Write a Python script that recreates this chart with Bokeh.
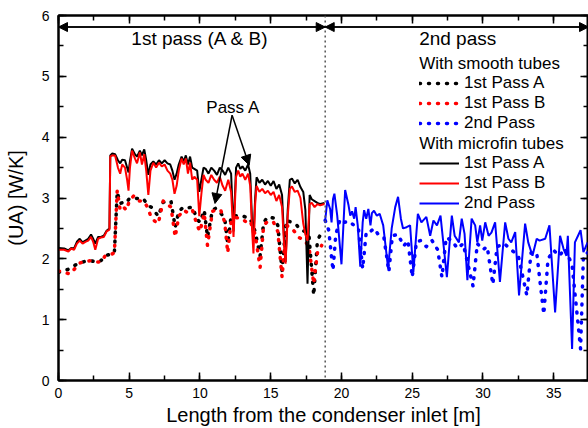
from bokeh.plotting import figure
from bokeh.models import (Range1d, LinearAxis, SingleIntervalTicker, Legend, LegendItem,
                          Label, Arrow, NormalHead, Span, CustomJSTickFormatter)
from bokeh.embed import file_html
from bokeh.resources import INLINE

FONT = "Liberation Sans"

# ---- data ----
# Smooth tubes, 1st pass A (black dotted)
sA_x = [0, 0.4, 0.8, 1.2, 1.5, 1.9, 2.3, 2.6, 3.0, 3.3, 3.7, 3.95, 4.15, 4.36, 4.6, 4.8, 5.0, 5.3, 5.6, 6.0,
        6.3, 6.55, 6.8, 7.05, 7.4, 7.95, 8.25, 8.5, 8.83, 9.2, 9.47, 9.8, 10.0, 10.3, 10.53, 10.88, 11.1,
        11.47, 11.75, 11.96, 12.2, 12.5, 12.96, 13.3, 13.55, 13.9, 14.25, 14.5, 14.8, 15.2, 15.5, 15.8,
        16.1, 16.5, 16.85, 17.0, 17.4, 17.7, 18.04, 18.3, 18.6]
sA_y = [1.78, 1.80, 1.84, 1.90, 1.93, 1.96, 1.97, 1.95, 1.97, 2.05, 2.08, 2.10, 3.10, 2.91, 2.93, 2.92, 2.99,
        3.00, 2.99, 2.99, 2.88, 2.85, 2.78, 2.70, 2.93, 2.95, 2.52, 2.78, 2.85, 2.84, 2.85, 2.65, 2.60, 2.80,
        2.36, 2.80, 2.83, 2.75, 2.66, 2.25, 2.70, 2.71, 2.71, 2.68, 2.66, 2.45, 2.05, 2.60, 2.69, 2.67, 2.55,
        1.81, 2.63, 2.60, 2.55, 2.50, 2.45, 2.40, 1.40, 2.30, 2.44]
# Smooth tubes, 1st pass B (red dotted)
sB_x = sA_x
sB_y = [1.80, 1.78, 1.75, 1.85, 1.93, 1.96, 1.97, 1.95, 1.95, 2.05, 2.07, 2.10, 3.12, 2.80, 2.85, 2.80, 2.95,
        3.03, 2.95, 2.95, 2.85, 2.68, 2.62, 2.58, 2.95, 2.85, 2.36, 2.70, 2.80, 2.75, 2.80, 2.55, 2.45, 2.75,
        2.22, 2.78, 2.80, 2.80, 2.60, 2.10, 2.62, 2.68, 2.66, 2.60, 2.62, 2.40, 1.86, 2.55, 2.62, 2.60, 2.45,
        1.70, 2.55, 2.50, 2.40, 2.35, 2.30, 2.20, 1.59, 2.10, 2.22]
# Smooth tubes, 2nd pass (blue dotted)
s2_x = [18.85, 19.1, 19.4, 19.6, 19.9, 20.2, 20.5, 20.9, 21.2, 21.5, 21.75, 22.0, 22.3, 22.6, 23.0, 23.35,
        23.6, 24.0, 24.4, 24.7, 25.0, 25.3, 25.6, 26.0, 26.4, 26.8, 27.1, 27.4, 27.8, 28.2, 28.6, 29.3, 29.6,
        30.0, 30.3, 30.7, 31.0, 31.5, 32.0, 32.5, 33.1, 33.4, 33.8, 34.3, 34.6, 35.0, 35.4, 35.8, 36.3, 36.9,
        37.1, 37.4]
s2_y = [2.63, 2.47, 1.81, 2.40, 2.65, 2.60, 2.62, 2.55, 2.50, 1.84, 2.44, 2.44, 2.50, 2.40, 2.35, 1.79,
        2.38, 2.40, 2.21, 2.30, 1.70, 2.28, 2.30, 2.20, 2.30, 2.15, 1.70, 2.35, 2.30, 2.17, 2.25, 1.55, 2.25,
        2.15, 2.20, 1.58, 2.20, 2.25, 2.15, 2.05, 1.40, 2.10, 2.10, 1.09, 2.00, 2.14, 2.05, 2.17, 1.90, 0.52,
        2.05, 2.10]
# Microfin tubes, 1st pass A (black solid) and B (red solid)
m1_x = [0, 0.4, 0.7, 0.9, 1.1, 1.3, 1.5, 1.7, 1.9, 2.1, 2.3, 2.45, 2.6, 2.8, 3.0, 3.2, 3.4, 3.6, 3.66, 3.8,
        4.0, 4.2, 4.36, 4.5, 4.7, 4.85, 4.95, 5.05, 5.2, 5.4, 5.55, 5.75, 5.9, 6.06, 6.2, 6.35, 6.5, 6.7, 6.9,
        7.1, 7.3, 7.5, 7.7, 7.9, 8.05, 8.2, 8.35, 8.5, 8.7, 8.85, 9.0, 9.15, 9.3, 9.45, 9.6, 9.8, 9.95, 10.1,
        10.25, 10.4, 10.6, 10.8, 11.0, 11.2, 11.4, 11.6, 11.78, 12.0, 12.2, 12.37, 12.55, 12.7, 12.85, 13.0,
        13.2, 13.4, 13.55, 13.7, 13.78, 13.9, 14.0, 14.2, 14.4, 14.6, 14.8, 15.0, 15.2, 15.4, 15.6, 15.8,
        15.95, 16.05, 16.2, 16.35, 16.5, 16.7, 16.9, 17.1, 17.3, 17.45, 17.6, 17.75, 17.9, 18.1, 18.3, 18.5,
        18.8]
mA_y = [2.18, 2.17, 2.14, 2.18, 2.17, 2.28, 2.33, 2.27, 2.30, 2.33, 2.40, 2.33, 2.25, 2.36, 2.36, 2.38, 2.46,
        2.50, 3.70, 3.73, 3.72, 3.62, 3.57, 3.63, 3.62, 3.50, 3.42, 3.60, 3.81, 3.72, 3.68, 3.78, 3.70, 3.80,
        3.62, 3.38, 3.55, 3.60, 3.55, 3.62, 3.57, 3.62, 3.57, 3.55, 3.45, 3.30, 3.40, 3.55, 3.68, 3.60, 3.70,
        3.55, 3.68, 3.50, 3.48, 3.45, 3.10, 3.30, 3.50, 3.48, 3.40, 3.50, 3.45, 3.38, 3.50, 3.45, 3.38, 3.50,
        3.40, 2.45, 3.50, 3.57, 3.48, 3.52, 3.45, 3.55, 3.40, 2.50, 2.35, 3.00, 3.34, 3.25, 3.30, 3.22, 3.28,
        3.20, 3.28, 3.15, 3.22, 3.05, 2.30, 1.95, 2.80, 3.30, 3.32, 3.24, 3.30, 3.18, 3.10, 2.80, 1.59, 3.05,
        2.98, 2.95, 2.92, 2.90, 2.92]
mB_y = [2.15, 2.15, 2.12, 2.17, 2.15, 2.25, 2.30, 2.25, 2.28, 2.30, 2.36, 2.28, 2.15, 2.33, 2.35, 2.36, 2.45,
        2.48, 3.68, 3.70, 3.70, 3.50, 3.40, 3.55, 3.50, 3.30, 3.12, 3.50, 3.78, 3.65, 3.57, 3.75, 3.55, 3.72,
        3.45, 3.05, 3.45, 3.58, 3.50, 3.58, 3.52, 3.55, 3.45, 3.40, 3.30, 3.07, 3.20, 3.45, 3.65, 3.55, 3.65,
        3.40, 3.58, 3.30, 3.35, 3.30, 2.70, 3.07, 3.38, 3.30, 3.25, 3.38, 3.30, 3.25, 3.35, 3.20, 3.12, 3.30,
        3.10, 2.36, 3.35, 3.45, 3.35, 3.40, 3.30, 3.40, 3.20, 2.40, 2.09, 2.90, 3.20, 3.10, 3.15, 3.08, 3.12,
        3.05, 3.10, 2.95, 3.05, 2.85, 2.20, 1.92, 2.70, 3.15, 3.19, 3.10, 3.12, 3.00, 2.58, 2.40, 2.30, 2.90,
        2.92, 2.85, 2.90, 2.88, 2.90]
# Microfin tubes, 2nd pass (blue solid)
m2_x = [18.85, 19.0, 19.2, 19.3, 19.4, 19.5, 19.7, 20.0, 20.26, 20.5, 20.62, 20.75, 20.9, 21.0, 21.15, 21.33,
        21.5, 21.6, 21.75, 21.9, 22.05, 22.15, 22.3, 22.5, 22.7, 22.95, 23.3, 23.55, 23.8, 24.0, 24.2, 24.35,
        24.6, 24.85, 25.08, 25.4, 25.65, 26.0, 26.27, 26.5, 26.75, 27.0, 27.45, 27.8, 28.0, 28.3, 28.5, 28.7,
        28.9, 29.2, 29.45, 29.6, 29.8, 29.95, 30.16, 30.4, 30.6, 30.86, 31.2, 31.57, 31.8, 32.0, 32.28, 32.55,
        32.98, 33.2, 33.5, 33.8, 34.0, 34.4, 34.7, 35.1, 35.45, 35.7, 35.9, 36.0, 36.3, 36.5, 36.9, 37.1, 37.4]
m2_y = [2.63, 2.96, 2.82, 2.60, 2.98, 3.07, 2.71, 1.91, 3.13, 2.88, 2.71, 2.78, 2.66, 2.85, 2.55, 1.87,
        2.60, 2.80, 2.66, 2.82, 2.55, 2.75, 2.79, 2.71, 2.74, 2.55, 1.84, 2.50, 2.85, 3.02, 2.66, 2.50,
        2.52, 2.55, 1.78, 2.74, 2.60, 2.69, 2.38, 2.63, 2.55, 2.71, 1.70, 2.71, 2.38, 2.27, 2.66, 2.41,
        1.65, 2.66, 2.55, 2.27, 2.55, 2.30, 2.60, 2.38, 2.43, 2.60, 1.62, 2.60, 2.33, 2.27, 2.44, 1.40,
        2.58, 2.27, 2.05, 2.33, 2.30, 2.33, 2.55, 1.12, 2.38, 2.16, 2.05, 2.38, 0.52, 2.27, 2.47, 2.11, 2.27]

pass_split = 18.85
x_label = "Length from the condenser inlet [m]"
y_label = "(UA) [W/K]"

p = figure(width=588, height=428, output_backend="svg", toolbar_location=None,
           x_range=Range1d(0, 37.46), y_range=Range1d(0, 6),
           min_border_left=58, min_border_right=0, min_border_top=15, min_border_bottom=48,
           x_axis_label=x_label, y_axis_label=y_label)
p.xgrid.visible = False
p.ygrid.visible = False
p.outline_line_color = "black"
p.outline_line_width = 2

xt = SingleIntervalTicker(interval=5, num_minor_ticks=2)
yt = SingleIntervalTicker(interval=1, num_minor_ticks=2)
p.xaxis.ticker = xt
p.yaxis.ticker = yt

for ax in (p.xaxis[0], p.yaxis[0]):
    ax.major_tick_in = 8
    ax.major_tick_out = 0
    ax.minor_tick_in = 5
    ax.minor_tick_out = 0
    ax.axis_line_width = 2
    ax.major_tick_line_width = 1.5
    ax.minor_tick_line_width = 1.5
    ax.major_label_text_font = FONT
    ax.major_label_text_font_size = "14px"
    ax.major_label_text_color = "black"
    ax.axis_label_text_font = FONT
    ax.axis_label_text_font_size = "20px"
    ax.axis_label_text_font_style = "normal"
    ax.axis_label_text_color = "black"
p.xaxis.major_label_standoff = 7
p.xaxis.axis_label_standoff = 3
p.yaxis.major_label_standoff = 9
p.yaxis.axis_label_standoff = 12

blank = CustomJSTickFormatter(code="return ''")
for place, tk in (("above", xt), ("right", yt)):
    a = LinearAxis(ticker=tk, formatter=blank, major_label_standoff=0,
                   major_tick_in=8, major_tick_out=0, minor_tick_in=5, minor_tick_out=0,
                   axis_line_width=2, major_tick_line_width=1.5, minor_tick_line_width=1.5)
    p.add_layout(a, place)

DOT = "1 8"
dot_kw = dict(line_width=3.5, line_dash=DOT, line_cap="round", line_join="round")
r_sA = p.line(sA_x, sA_y, line_color="black", **dot_kw)
r_sB = p.line(sB_x, sB_y, line_color="red", **dot_kw)
r_s2 = p.line(s2_x, s2_y, line_color="blue", **dot_kw)
r_mA = p.line(m1_x, mA_y, line_color="black", line_width=2)
r_mB = p.line(m1_x, mB_y, line_color="red", line_width=2)
r_m2 = p.line(m2_x, m2_y, line_color="blue", line_width=2)
hdr = p.line(x=[], y=[], line_alpha=0)

p.add_layout(Span(location=pass_split, dimension="height", line_color="#555555",
                  line_width=1.5, line_dash="2 3"))

# top pass arrows
for xs, xe in ((pass_split, 0), (0, pass_split), (37.46, pass_split), (pass_split, 37.46)):
    p.add_layout(Arrow(end=NormalHead(size=9, fill_color="black", line_color="black"),
                       x_start=xs, y_start=5.81, x_end=xe, y_end=5.81,
                       line_color="black", line_width=1.5))
# "Pass A" arrows
for xe, ye in ((11.06, 2.91), (13.48, 3.54)):
    p.add_layout(Arrow(end=NormalHead(size=10, fill_color="black", line_color="black"),
                       x_start=12.27, y_start=4.36, x_end=xe, y_end=ye,
                       line_color="black", line_width=1.5))

def txt(x, y, s, size, align="left"):
    p.add_layout(Label(x=x, y=y, text=s, text_font=FONT, text_font_size=size,
                       text_align=align, text_baseline="middle", text_color="black"))

txt(10.0, 5.62, "1st pass (A & B)", "19px", "center")
txt(25.49, 5.62, "2nd pass", "19px")
txt(12.35, 4.48, "Pass A", "17px", "center")
txt(25.49, 5.21, "With smooth tubes", "17px")
txt(25.49, 3.90, "With microfin tubes", "17px")

legend = Legend(items=[
    LegendItem(label=" ", renderers=[hdr]),
    LegendItem(label="1st Pass A", renderers=[r_sA]),
    LegendItem(label="1st Pass B", renderers=[r_sB]),
    LegendItem(label="2nd Pass", renderers=[r_s2]),
    LegendItem(label=" ", renderers=[hdr]),
    LegendItem(label="1st Pass A", renderers=[r_mA]),
    LegendItem(label="1st Pass B", renderers=[r_mB]),
    LegendItem(label="2nd Pass", renderers=[r_m2]),
], location=(361, 167), padding=0, margin=0, spacing=0, glyph_width=40, glyph_height=20,
   label_height=20, label_standoff=5, label_text_font=FONT, label_text_font_size="17px",
   label_text_color="black", border_line_color=None, background_fill_alpha=0)
p.add_layout(legend)

open("out.html", "w").write(file_html(p, INLINE))
